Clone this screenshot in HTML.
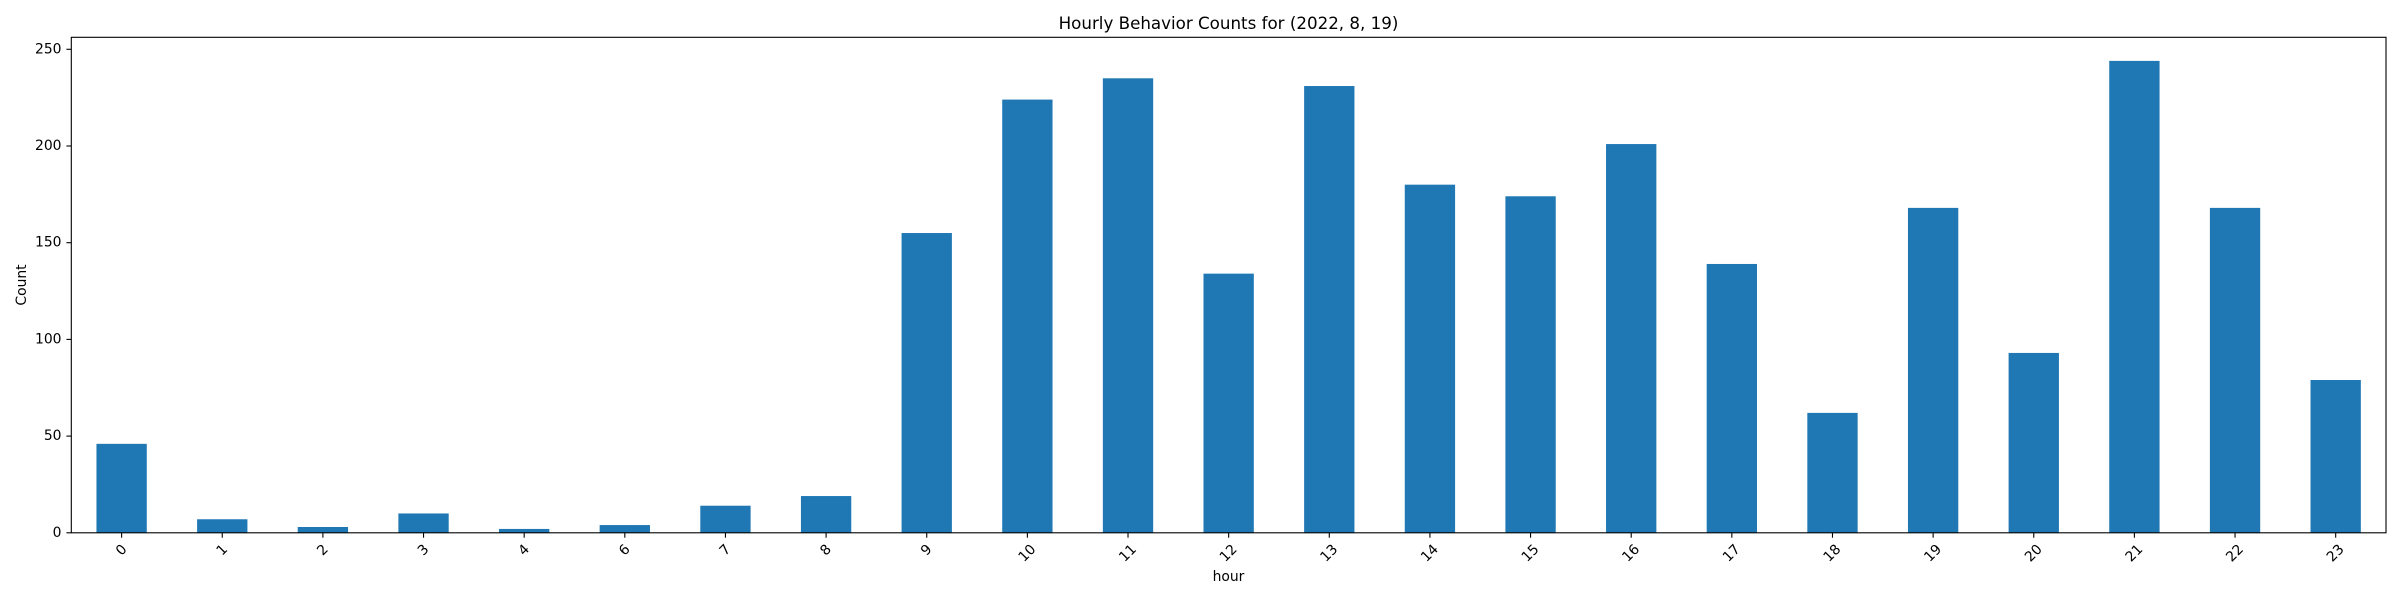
<!DOCTYPE html>
<html><head><meta charset="utf-8"><style>
html,body{margin:0;padding:0;background:#fff;}
svg{display:block;font-family:"DejaVu Sans","Liberation Sans",sans-serif;}
</style></head><body>
<svg id="chart" width="2400" height="600" viewBox="0 0 2400 600" xmlns="http://www.w3.org/2000/svg">
<rect width="2400" height="600" fill="#fff"/>
<text x="1228.5" y="29" font-size="16.7" text-anchor="middle" fill="#000">Hourly Behavior Counts for (2022, 8, 19)</text>
<g id="bars"></g>
<g id="xaxis"></g>
<g id="yaxis"></g>
<rect x="71.3" y="37.3" width="2314.7" height="495.5" fill="none" stroke="#000" stroke-width="1.1"/>
<text x="1228.5" y="581" font-size="13.9" text-anchor="middle" fill="#000">hour</text>
<text x="0" y="0" font-size="13.9" text-anchor="middle" fill="#000" transform="translate(22,285) rotate(-90)" dominant-baseline="central">Count</text>
</svg>
<script>
const categories = ["0","1","2","3","4","6","7","8","9","10","11","12","13","14","15","16","17","18","19","20","21","22","23"];
const counts = [46,7,3,10,2,4,14,19,155,224,235,134,231,180,174,201,139,62,168,93,244,168,79];
const yTicks = [0,50,100,150,200,250];

const NS = "http://www.w3.org/2000/svg";
const plotLeft = 71.3, plotRight = 2386, plotTop = 37.3, plotBottom = 532.8;
const yMax = Math.max(...counts) * 1.05;
const step = (plotRight - plotLeft) / categories.length;
function xScale(i){ return plotLeft + (i + 0.5) * step; }
function yScale(v){ return plotBottom - v / yMax * (plotBottom - plotTop); }

const bars = document.getElementById('bars');
const xaxis = document.getElementById('xaxis');
const yaxis = document.getElementById('yaxis');

categories.forEach((c, i) => {
  const cx = xScale(i), w = step * 0.5;
  const r = document.createElementNS(NS, 'rect');
  r.setAttribute('x', cx - w / 2);
  r.setAttribute('y', yScale(counts[i]));
  r.setAttribute('width', w);
  r.setAttribute('height', plotBottom - yScale(counts[i]));
  r.setAttribute('fill', '#1f77b4');
  
  
  bars.appendChild(r);

  const t = document.createElementNS(NS, 'line');
  t.setAttribute('x1', cx); t.setAttribute('x2', cx);
  t.setAttribute('y1', plotBottom); t.setAttribute('y2', plotBottom + 4.9);
  t.setAttribute('stroke', '#000'); t.setAttribute('stroke-width', '1.1');
  
  
  xaxis.appendChild(t);

  const tw = c.length * 8.85, th = 13;
  const bh = (tw + th) / Math.SQRT2;
  const cy = plotBottom + 9.8 + bh / 2;
  const lab = document.createElementNS(NS, 'text');
  lab.setAttribute('x', 0); lab.setAttribute('y', 0);
  lab.setAttribute('font-size', '13.9');
  lab.setAttribute('text-anchor', 'middle');
  lab.setAttribute('dominant-baseline', 'central');
  lab.setAttribute('transform', 'translate(' + cx + ',' + cy + ') rotate(-45)');
  lab.textContent = c;
  
  
  xaxis.appendChild(lab);
});

yTicks.forEach(v => {
  const y = yScale(v);
  const t = document.createElementNS(NS, 'line');
  t.setAttribute('x1', plotLeft - 4.9); t.setAttribute('x2', plotLeft);
  t.setAttribute('y1', y); t.setAttribute('y2', y);
  t.setAttribute('stroke', '#000'); t.setAttribute('stroke-width', '1.1');
  
  
  yaxis.appendChild(t);
  const lab = document.createElementNS(NS, 'text');
  lab.setAttribute('x', plotLeft - 9.8);
  lab.setAttribute('y', y);
  lab.setAttribute('font-size', '13.9');
  lab.setAttribute('text-anchor', 'end');
  lab.setAttribute('dominant-baseline', 'central');
  lab.textContent = v;
  
  
  yaxis.appendChild(lab);
});
</script>
</body></html>
